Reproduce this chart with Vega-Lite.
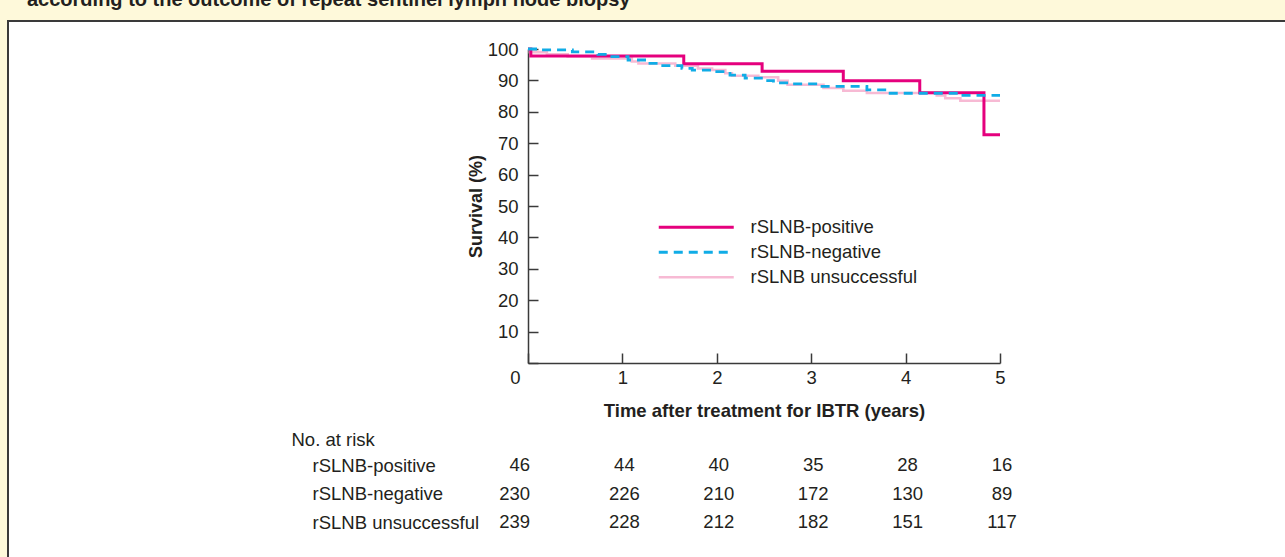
{
  "$schema": "https://vega.github.io/schema/vega-lite/v6.json",
  "background": "#FEF9DA",
  "padding": {"left": 8, "top": -10, "right": 0, "bottom": 0},
  "width": 1280,
  "height": 540,
  "view": {"fill": "white", "stroke": "#3a3a3a", "strokeWidth": 2},
  "config": {
    "font": "Liberation Sans",
    "axis": {"grid": false, "labelFont": "Liberation Sans", "titleFont": "Liberation Sans", "labelColor": "#231f20", "titleColor": "#231f20"},
    "legend": {"labelFont": "Liberation Sans"}
  },
  "title": {
    "text": "according to the outcome of repeat sentinel lymph node biopsy",
    "anchor": "start",
    "frame": "group",
    "fontSize": 20,
    "fontWeight": "bold",
    "font": "Liberation Sans",
    "color": "#231f20",
    "baseline": "alphabetic",
    "offset": -5,
    "dx": 19
  },
  "datasets": {
    "km": [
      {"group": "rSLNB unsuccessful", "t": 0, "s": 100},
      {"group": "rSLNB unsuccessful", "t": 0.02, "s": 99.0},
      {"group": "rSLNB unsuccessful", "t": 0.2, "s": 98.3},
      {"group": "rSLNB unsuccessful", "t": 0.42, "s": 97.6},
      {"group": "rSLNB unsuccessful", "t": 0.68, "s": 97.0},
      {"group": "rSLNB unsuccessful", "t": 1.10, "s": 96.0},
      {"group": "rSLNB unsuccessful", "t": 1.17, "s": 95.4},
      {"group": "rSLNB unsuccessful", "t": 1.56, "s": 94.7},
      {"group": "rSLNB unsuccessful", "t": 1.80, "s": 93.8},
      {"group": "rSLNB unsuccessful", "t": 1.95, "s": 93.3},
      {"group": "rSLNB unsuccessful", "t": 2.09, "s": 92.3},
      {"group": "rSLNB unsuccessful", "t": 2.16, "s": 91.5},
      {"group": "rSLNB unsuccessful", "t": 2.44, "s": 91.0},
      {"group": "rSLNB unsuccessful", "t": 2.65, "s": 89.9},
      {"group": "rSLNB unsuccessful", "t": 2.75, "s": 88.6},
      {"group": "rSLNB unsuccessful", "t": 3.13, "s": 87.6},
      {"group": "rSLNB unsuccessful", "t": 3.34, "s": 86.7},
      {"group": "rSLNB unsuccessful", "t": 3.59, "s": 86.0},
      {"group": "rSLNB unsuccessful", "t": 4.33, "s": 85.2},
      {"group": "rSLNB unsuccessful", "t": 4.42, "s": 84.3},
      {"group": "rSLNB unsuccessful", "t": 4.58, "s": 83.5},
      {"group": "rSLNB unsuccessful", "t": 5.0, "s": 83.5},
      {"group": "rSLNB-positive", "t": 0, "s": 100},
      {"group": "rSLNB-positive", "t": 0.03, "s": 97.8},
      {"group": "rSLNB-positive", "t": 1.65, "s": 95.3},
      {"group": "rSLNB-positive", "t": 2.48, "s": 92.9},
      {"group": "rSLNB-positive", "t": 3.34, "s": 89.9},
      {"group": "rSLNB-positive", "t": 4.15, "s": 86.1},
      {"group": "rSLNB-positive", "t": 4.83, "s": 72.7},
      {"group": "rSLNB-positive", "t": 5.0, "s": 72.7},
      {"group": "rSLNB-negative", "t": 0, "s": 100},
      {"group": "rSLNB-negative", "t": 0.11, "s": 99.7},
      {"group": "rSLNB-negative", "t": 0.47, "s": 99.1},
      {"group": "rSLNB-negative", "t": 0.74, "s": 98.3},
      {"group": "rSLNB-negative", "t": 0.85, "s": 97.6},
      {"group": "rSLNB-negative", "t": 1.06, "s": 96.5},
      {"group": "rSLNB-negative", "t": 1.27, "s": 95.4},
      {"group": "rSLNB-negative", "t": 1.40, "s": 94.7},
      {"group": "rSLNB-negative", "t": 1.63, "s": 93.8},
      {"group": "rSLNB-negative", "t": 1.74, "s": 93.3},
      {"group": "rSLNB-negative", "t": 1.95, "s": 92.8},
      {"group": "rSLNB-negative", "t": 2.14, "s": 91.7},
      {"group": "rSLNB-negative", "t": 2.30, "s": 90.7},
      {"group": "rSLNB-negative", "t": 2.51, "s": 89.9},
      {"group": "rSLNB-negative", "t": 2.60, "s": 89.2},
      {"group": "rSLNB-negative", "t": 2.78, "s": 88.9},
      {"group": "rSLNB-negative", "t": 3.09, "s": 88.1},
      {"group": "rSLNB-negative", "t": 3.59, "s": 87.0},
      {"group": "rSLNB-negative", "t": 3.80, "s": 85.9},
      {"group": "rSLNB-negative", "t": 4.58, "s": 85.2},
      {"group": "rSLNB-negative", "t": 5.0, "s": 85.2}
    ],
    "risk": [
      {"group": "rSLNB-positive", "t": 0, "n": 46},
      {"group": "rSLNB-positive", "t": 1, "n": 44},
      {"group": "rSLNB-positive", "t": 2, "n": 40},
      {"group": "rSLNB-positive", "t": 3, "n": 35},
      {"group": "rSLNB-positive", "t": 4, "n": 28},
      {"group": "rSLNB-positive", "t": 5, "n": 16},
      {"group": "rSLNB-negative", "t": 0, "n": 230},
      {"group": "rSLNB-negative", "t": 1, "n": 226},
      {"group": "rSLNB-negative", "t": 2, "n": 210},
      {"group": "rSLNB-negative", "t": 3, "n": 172},
      {"group": "rSLNB-negative", "t": 4, "n": 130},
      {"group": "rSLNB-negative", "t": 5, "n": 89},
      {"group": "rSLNB unsuccessful", "t": 0, "n": 239},
      {"group": "rSLNB unsuccessful", "t": 1, "n": 228},
      {"group": "rSLNB unsuccessful", "t": 2, "n": 212},
      {"group": "rSLNB unsuccessful", "t": 3, "n": 182},
      {"group": "rSLNB unsuccessful", "t": 4, "n": 151},
      {"group": "rSLNB unsuccessful", "t": 5, "n": 117}
    ]
  },
  "resolve": {"scale": {"y": "independent"}, "axis": {"y": "independent"}},
  "layer": [
    {
      "data": {"name": "km"},
      "mark": {"type": "line", "interpolate": "step-after"},
      "encoding": {
        "x": {
          "field": "t", "type": "quantitative",
          "scale": {"domain": [0, 5], "range": [520, 992], "nice": false, "zero": false},
          "axis": {
            "orient": "bottom", "offset": -198, "values": [0, 1, 2, 3, 4, 5], "format": "d",
            "tickSize": -10, "tickWidth": 1.5, "tickColor": "#3a3a3a",
            "domainColor": "#3a3a3a", "domainWidth": 1.5,
            "labelFontSize": 18.5, "labelPadding": 15,
            "labelAlign": {"condition": {"test": "datum.value === 0", "value": "right"}, "value": "center"},
            "labelOffset": {"condition": {"test": "datum.value === 0", "value": -8}, "value": 0},
            "title": "Time after treatment for IBTR (years)",
            "titleFontSize": 18.5, "titleFontWeight": "bold",
            "titleY": 47, "titleBaseline": "middle"
          }
        },
        "y": {
          "field": "s", "type": "quantitative",
          "scale": {"domain": [0, 100], "range": [342, 28], "nice": false},
          "axis": {
            "orient": "left", "offset": -520,
            "values": [0, 10, 20, 30, 40, 50, 60, 70, 80, 90, 100],
            "labelExpr": "datum.value === 0 ? '' : datum.label",
            "tickSize": -10, "tickWidth": 1.5, "tickColor": "#3a3a3a",
            "domainColor": "#3a3a3a", "domainWidth": 1.5,
            "labelFontSize": 18.5, "labelPadding": 20,
            "title": "Survival (%)", "titleFontSize": 18, "titleFontWeight": "bold",
            "titleAngle": 270, "titleX": -52, "titleY": 185,
            "titleAlign": "center", "titleBaseline": "middle"
          }
        },
        "detail": {"field": "group"},
        "color": {
          "field": "group", "type": "nominal",
          "scale": {"domain": ["rSLNB-positive", "rSLNB-negative", "rSLNB unsuccessful"], "range": ["#E5007D", "#10ACE6", "#F7BAD4"]},
          "legend": {
            "orient": "none", "legendX": 709, "legendY": 197, "title": null,
            "symbolType": "M-9,0L1,0", "symbolSize": 225,
            "labelFontSize": 18.5, "labelColor": "#231f20", "labelOffset": 15,
            "rowPadding": 6, "padding": 0, "labelLimit": 300
          }
        },
        "strokeDash": {
          "field": "group", "type": "nominal",
          "scale": {"domain": ["rSLNB-positive", "rSLNB-negative", "rSLNB unsuccessful"], "range": [[1, 0], [9, 6], [1, 0]]},
          "legend": {
            "orient": "none", "legendX": 709, "legendY": 197, "title": null,
            "symbolType": "M-9,0L1,0", "symbolSize": 225,
            "labelFontSize": 18.5, "labelColor": "#231f20", "labelOffset": 15,
            "rowPadding": 6, "padding": 0, "labelLimit": 300
          }
        },
        "strokeWidth": {
          "field": "group", "type": "nominal",
          "scale": {"domain": ["rSLNB-positive", "rSLNB-negative", "rSLNB unsuccessful"], "range": [3, 2.6, 4]},
          "legend": {
            "orient": "none", "legendX": 709, "legendY": 197, "title": null,
            "symbolType": "M-9,0L1,0", "symbolSize": 225,
            "labelFontSize": 18.5, "labelColor": "#231f20", "labelOffset": 15,
            "rowPadding": 6, "padding": 0, "labelLimit": 300
          }
        }
      }
    },
    {
      "data": {"name": "risk"},
      "transform": [{"filter": "datum.t === 0"}],
      "mark": {"type": "text", "align": "right", "dx": 2, "fontSize": 18.5, "color": "#231f20", "font": "Liberation Sans"},
      "encoding": {
        "x": {"field": "t", "type": "quantitative"},
        "y": {
          "field": "group", "type": "ordinal",
          "scale": {"type": "point", "domain": ["rSLNB-positive", "rSLNB-negative", "rSLNB unsuccessful"], "range": [444, 501], "padding": 0},
          "axis": {
            "orient": "left", "offset": -304, "domain": false, "ticks": false,
            "labelAlign": "left", "labelPadding": 0, "labelFontSize": 18.5, "labelLimit": 300,
            "title": "No. at risk", "titleAngle": 0, "titleFontSize": 18.5, "titleFontWeight": "normal",
            "titleAlign": "left", "titleBaseline": "middle", "titleX": -21, "titleY": 418
          }
        },
        "text": {"field": "n", "type": "quantitative"}
      }
    },
    {
      "data": {"name": "risk"},
      "transform": [{"filter": "datum.t > 0"}],
      "mark": {"type": "text", "align": "center", "dx": 2, "fontSize": 18.5, "color": "#231f20", "font": "Liberation Sans"},
      "encoding": {
        "x": {"field": "t", "type": "quantitative"},
        "y": {
          "field": "group", "type": "ordinal",
          "scale": {"type": "point", "domain": ["rSLNB-positive", "rSLNB-negative", "rSLNB unsuccessful"], "range": [444, 501], "padding": 0},
          "axis": null
        },
        "text": {"field": "n", "type": "quantitative"}
      }
    }
  ]
}
